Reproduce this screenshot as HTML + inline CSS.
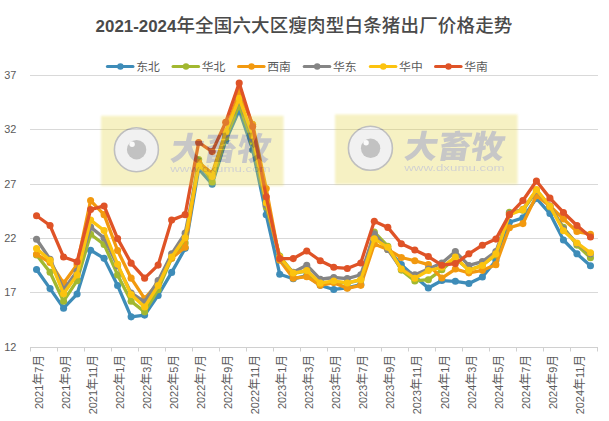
<!DOCTYPE html>
<html lang="zh"><head><meta charset="utf-8"><title>2021-2024年全国六大区瘦肉型白条猪出厂价格走势</title>
<style>
html,body{margin:0;padding:0;background:#fff;}
body{width:609px;height:421px;overflow:hidden;}
svg{display:block;}
svg text{font-family:"Liberation Sans","Noto Sans CJK SC",sans-serif;}
.cj{font-family:"Noto Sans CJK SC","Liberation Sans",sans-serif;}
</style></head><body>
<svg width="609" height="421" viewBox="0 0 609 421">
<rect x="0" y="0" width="609" height="421" fill="#ffffff"/>
<text x="95.6" y="32.2" fill="#4a4a4a"><tspan font-size="16.9px" font-weight="bold">2021-2024</tspan><tspan class="cj" font-weight="500" font-size="18.5px" textLength="336" lengthAdjust="spacing">年全国六大区瘦肉型白条猪出厂价格走势</tspan></text>
<line x1="30" x2="598" y1="75.5" y2="75.5" stroke="#D9D9D9" stroke-width="1"/>
<line x1="30" x2="598" y1="129.5" y2="129.5" stroke="#D9D9D9" stroke-width="1"/>
<line x1="30" x2="598" y1="184.5" y2="184.5" stroke="#D9D9D9" stroke-width="1"/>
<line x1="30" x2="598" y1="238.5" y2="238.5" stroke="#D9D9D9" stroke-width="1"/>
<line x1="30" x2="598" y1="292.5" y2="292.5" stroke="#D9D9D9" stroke-width="1"/>
<line x1="30" x2="598" y1="347.5" y2="347.5" stroke="#D0D0D0" stroke-width="1"/>
<line x1="30.5" x2="30.5" y1="347" y2="351.5" stroke="#D0D0D0" stroke-width="1"/>
<line x1="57.5" x2="57.5" y1="347" y2="351.5" stroke="#D0D0D0" stroke-width="1"/>
<line x1="84.5" x2="84.5" y1="347" y2="351.5" stroke="#D0D0D0" stroke-width="1"/>
<line x1="111.5" x2="111.5" y1="347" y2="351.5" stroke="#D0D0D0" stroke-width="1"/>
<line x1="138.5" x2="138.5" y1="347" y2="351.5" stroke="#D0D0D0" stroke-width="1"/>
<line x1="165.5" x2="165.5" y1="347" y2="351.5" stroke="#D0D0D0" stroke-width="1"/>
<line x1="192.5" x2="192.5" y1="347" y2="351.5" stroke="#D0D0D0" stroke-width="1"/>
<line x1="219.5" x2="219.5" y1="347" y2="351.5" stroke="#D0D0D0" stroke-width="1"/>
<line x1="246.5" x2="246.5" y1="347" y2="351.5" stroke="#D0D0D0" stroke-width="1"/>
<line x1="273.5" x2="273.5" y1="347" y2="351.5" stroke="#D0D0D0" stroke-width="1"/>
<line x1="300.5" x2="300.5" y1="347" y2="351.5" stroke="#D0D0D0" stroke-width="1"/>
<line x1="327.5" x2="327.5" y1="347" y2="351.5" stroke="#D0D0D0" stroke-width="1"/>
<line x1="354.5" x2="354.5" y1="347" y2="351.5" stroke="#D0D0D0" stroke-width="1"/>
<line x1="381.5" x2="381.5" y1="347" y2="351.5" stroke="#D0D0D0" stroke-width="1"/>
<line x1="408.5" x2="408.5" y1="347" y2="351.5" stroke="#D0D0D0" stroke-width="1"/>
<line x1="435.5" x2="435.5" y1="347" y2="351.5" stroke="#D0D0D0" stroke-width="1"/>
<line x1="462.5" x2="462.5" y1="347" y2="351.5" stroke="#D0D0D0" stroke-width="1"/>
<line x1="489.5" x2="489.5" y1="347" y2="351.5" stroke="#D0D0D0" stroke-width="1"/>
<line x1="516.5" x2="516.5" y1="347" y2="351.5" stroke="#D0D0D0" stroke-width="1"/>
<line x1="543.5" x2="543.5" y1="347" y2="351.5" stroke="#D0D0D0" stroke-width="1"/>
<line x1="570.5" x2="570.5" y1="347" y2="351.5" stroke="#D0D0D0" stroke-width="1"/>
<line x1="597.5" x2="597.5" y1="347" y2="351.5" stroke="#D0D0D0" stroke-width="1"/>
<text x="16.4" y="78.70" text-anchor="end" font-size="10.9px" fill="#595959">37</text>
<text x="16.4" y="132.70" text-anchor="end" font-size="10.9px" fill="#595959">32</text>
<text x="16.4" y="187.70" text-anchor="end" font-size="10.9px" fill="#595959">27</text>
<text x="16.4" y="241.70" text-anchor="end" font-size="10.9px" fill="#595959">22</text>
<text x="16.4" y="295.70" text-anchor="end" font-size="10.9px" fill="#595959">17</text>
<text x="16.4" y="350.70" text-anchor="end" font-size="10.9px" fill="#595959">12</text>
<text transform="translate(42.65,354.7) rotate(-90)" text-anchor="end" fill="#595959" font-size="10.9px">2021<tspan class="cj" font-size="12px">年</tspan>7<tspan class="cj" font-size="12px">月</tspan></text>
<text transform="translate(69.71,354.7) rotate(-90)" text-anchor="end" fill="#595959" font-size="10.9px">2021<tspan class="cj" font-size="12px">年</tspan>9<tspan class="cj" font-size="12px">月</tspan></text>
<text transform="translate(96.77,354.7) rotate(-90)" text-anchor="end" fill="#595959" font-size="10.9px">2021<tspan class="cj" font-size="12px">年</tspan>11<tspan class="cj" font-size="12px">月</tspan></text>
<text transform="translate(123.83,354.7) rotate(-90)" text-anchor="end" fill="#595959" font-size="10.9px">2022<tspan class="cj" font-size="12px">年</tspan>1<tspan class="cj" font-size="12px">月</tspan></text>
<text transform="translate(150.89,354.7) rotate(-90)" text-anchor="end" fill="#595959" font-size="10.9px">2022<tspan class="cj" font-size="12px">年</tspan>3<tspan class="cj" font-size="12px">月</tspan></text>
<text transform="translate(177.95,354.7) rotate(-90)" text-anchor="end" fill="#595959" font-size="10.9px">2022<tspan class="cj" font-size="12px">年</tspan>5<tspan class="cj" font-size="12px">月</tspan></text>
<text transform="translate(205.01,354.7) rotate(-90)" text-anchor="end" fill="#595959" font-size="10.9px">2022<tspan class="cj" font-size="12px">年</tspan>7<tspan class="cj" font-size="12px">月</tspan></text>
<text transform="translate(232.07,354.7) rotate(-90)" text-anchor="end" fill="#595959" font-size="10.9px">2022<tspan class="cj" font-size="12px">年</tspan>9<tspan class="cj" font-size="12px">月</tspan></text>
<text transform="translate(259.13,354.7) rotate(-90)" text-anchor="end" fill="#595959" font-size="10.9px">2022<tspan class="cj" font-size="12px">年</tspan>11<tspan class="cj" font-size="12px">月</tspan></text>
<text transform="translate(286.19,354.7) rotate(-90)" text-anchor="end" fill="#595959" font-size="10.9px">2023<tspan class="cj" font-size="12px">年</tspan>1<tspan class="cj" font-size="12px">月</tspan></text>
<text transform="translate(313.25,354.7) rotate(-90)" text-anchor="end" fill="#595959" font-size="10.9px">2023<tspan class="cj" font-size="12px">年</tspan>3<tspan class="cj" font-size="12px">月</tspan></text>
<text transform="translate(340.31,354.7) rotate(-90)" text-anchor="end" fill="#595959" font-size="10.9px">2023<tspan class="cj" font-size="12px">年</tspan>5<tspan class="cj" font-size="12px">月</tspan></text>
<text transform="translate(367.37,354.7) rotate(-90)" text-anchor="end" fill="#595959" font-size="10.9px">2023<tspan class="cj" font-size="12px">年</tspan>7<tspan class="cj" font-size="12px">月</tspan></text>
<text transform="translate(394.43,354.7) rotate(-90)" text-anchor="end" fill="#595959" font-size="10.9px">2023<tspan class="cj" font-size="12px">年</tspan>9<tspan class="cj" font-size="12px">月</tspan></text>
<text transform="translate(421.49,354.7) rotate(-90)" text-anchor="end" fill="#595959" font-size="10.9px">2023<tspan class="cj" font-size="12px">年</tspan>11<tspan class="cj" font-size="12px">月</tspan></text>
<text transform="translate(448.55,354.7) rotate(-90)" text-anchor="end" fill="#595959" font-size="10.9px">2024<tspan class="cj" font-size="12px">年</tspan>1<tspan class="cj" font-size="12px">月</tspan></text>
<text transform="translate(475.61,354.7) rotate(-90)" text-anchor="end" fill="#595959" font-size="10.9px">2024<tspan class="cj" font-size="12px">年</tspan>3<tspan class="cj" font-size="12px">月</tspan></text>
<text transform="translate(502.67,354.7) rotate(-90)" text-anchor="end" fill="#595959" font-size="10.9px">2024<tspan class="cj" font-size="12px">年</tspan>5<tspan class="cj" font-size="12px">月</tspan></text>
<text transform="translate(529.73,354.7) rotate(-90)" text-anchor="end" fill="#595959" font-size="10.9px">2024<tspan class="cj" font-size="12px">年</tspan>7<tspan class="cj" font-size="12px">月</tspan></text>
<text transform="translate(556.79,354.7) rotate(-90)" text-anchor="end" fill="#595959" font-size="10.9px">2024<tspan class="cj" font-size="12px">年</tspan>9<tspan class="cj" font-size="12px">月</tspan></text>
<text transform="translate(583.85,354.7) rotate(-90)" text-anchor="end" fill="#595959" font-size="10.9px">2024<tspan class="cj" font-size="12px">年</tspan>11<tspan class="cj" font-size="12px">月</tspan></text>
<line x1="107.4" x2="133.0" y1="66.5" y2="66.5" stroke="#3E8CB8" stroke-width="3" stroke-linecap="round"/><circle cx="120.4" cy="66.5" r="3.2" fill="#3E8CB8"/><text class="cj" x="136.2" y="70.7" font-size="11.8px" fill="#595959">东北</text>
<line x1="173.0" x2="198.6" y1="66.5" y2="66.5" stroke="#A2B830" stroke-width="3" stroke-linecap="round"/><circle cx="186.0" cy="66.5" r="3.2" fill="#A2B830"/><text class="cj" x="201.8" y="70.7" font-size="11.8px" fill="#595959">华北</text>
<line x1="238.5" x2="264.1" y1="66.5" y2="66.5" stroke="#F2990F" stroke-width="3" stroke-linecap="round"/><circle cx="251.5" cy="66.5" r="3.2" fill="#F2990F"/><text class="cj" x="267.3" y="70.7" font-size="11.8px" fill="#595959">西南</text>
<line x1="304.2" x2="329.8" y1="66.5" y2="66.5" stroke="#858585" stroke-width="3" stroke-linecap="round"/><circle cx="317.2" cy="66.5" r="3.2" fill="#858585"/><text class="cj" x="333.0" y="70.7" font-size="11.8px" fill="#595959">华东</text>
<line x1="370.3" x2="395.9" y1="66.5" y2="66.5" stroke="#FCC30F" stroke-width="3" stroke-linecap="round"/><circle cx="383.3" cy="66.5" r="3.2" fill="#FCC30F"/><text class="cj" x="399.1" y="70.7" font-size="11.8px" fill="#595959">华中</text>
<line x1="435.5" x2="461.1" y1="66.5" y2="66.5" stroke="#DF5327" stroke-width="3" stroke-linecap="round"/><circle cx="448.5" cy="66.5" r="3.2" fill="#DF5327"/><text class="cj" x="464.3" y="70.7" font-size="11.8px" fill="#595959">华南</text>
<g><polyline points="36.55,269.57 50.06,288.59 63.57,308.16 77.08,294.03 90.59,250.21 104.10,258.37 117.61,285.55 131.12,316.86 144.63,315.12 158.14,295.44 171.65,272.39 185.16,248.36 198.67,169.00 212.18,184.22 225.69,140.73 239.20,110.29 252.71,149.97 266.22,214.77 279.73,274.24 293.24,278.81 306.75,275.54 320.26,285.33 333.77,289.46 347.28,287.83 360.79,284.57 374.30,235.32 387.81,249.45 401.32,264.67 414.83,276.63 428.34,287.94 441.85,280.55 455.36,281.31 468.87,283.48 482.38,276.96 495.89,260.54 509.40,222.27 522.91,217.92 536.42,198.35 549.93,213.57 563.44,239.99 576.95,253.80 590.46,265.76" fill="none" stroke="#3E8CB8" stroke-width="3.3" stroke-linejoin="round" stroke-linecap="round"/><circle cx="36.55" cy="269.57" r="3.55" fill="#3E8CB8"/><circle cx="50.06" cy="288.59" r="3.55" fill="#3E8CB8"/><circle cx="63.57" cy="308.16" r="3.55" fill="#3E8CB8"/><circle cx="77.08" cy="294.03" r="3.55" fill="#3E8CB8"/><circle cx="90.59" cy="250.21" r="3.55" fill="#3E8CB8"/><circle cx="104.10" cy="258.37" r="3.55" fill="#3E8CB8"/><circle cx="117.61" cy="285.55" r="3.55" fill="#3E8CB8"/><circle cx="131.12" cy="316.86" r="3.55" fill="#3E8CB8"/><circle cx="144.63" cy="315.12" r="3.55" fill="#3E8CB8"/><circle cx="158.14" cy="295.44" r="3.55" fill="#3E8CB8"/><circle cx="171.65" cy="272.39" r="3.55" fill="#3E8CB8"/><circle cx="185.16" cy="248.36" r="3.55" fill="#3E8CB8"/><circle cx="198.67" cy="169.00" r="3.55" fill="#3E8CB8"/><circle cx="212.18" cy="184.22" r="3.55" fill="#3E8CB8"/><circle cx="225.69" cy="140.73" r="3.55" fill="#3E8CB8"/><circle cx="239.20" cy="110.29" r="3.55" fill="#3E8CB8"/><circle cx="252.71" cy="149.97" r="3.55" fill="#3E8CB8"/><circle cx="266.22" cy="214.77" r="3.55" fill="#3E8CB8"/><circle cx="279.73" cy="274.24" r="3.55" fill="#3E8CB8"/><circle cx="293.24" cy="278.81" r="3.55" fill="#3E8CB8"/><circle cx="306.75" cy="275.54" r="3.55" fill="#3E8CB8"/><circle cx="320.26" cy="285.33" r="3.55" fill="#3E8CB8"/><circle cx="333.77" cy="289.46" r="3.55" fill="#3E8CB8"/><circle cx="347.28" cy="287.83" r="3.55" fill="#3E8CB8"/><circle cx="360.79" cy="284.57" r="3.55" fill="#3E8CB8"/><circle cx="374.30" cy="235.32" r="3.55" fill="#3E8CB8"/><circle cx="387.81" cy="249.45" r="3.55" fill="#3E8CB8"/><circle cx="401.32" cy="264.67" r="3.55" fill="#3E8CB8"/><circle cx="414.83" cy="276.63" r="3.55" fill="#3E8CB8"/><circle cx="428.34" cy="287.94" r="3.55" fill="#3E8CB8"/><circle cx="441.85" cy="280.55" r="3.55" fill="#3E8CB8"/><circle cx="455.36" cy="281.31" r="3.55" fill="#3E8CB8"/><circle cx="468.87" cy="283.48" r="3.55" fill="#3E8CB8"/><circle cx="482.38" cy="276.96" r="3.55" fill="#3E8CB8"/><circle cx="495.89" cy="260.54" r="3.55" fill="#3E8CB8"/><circle cx="509.40" cy="222.27" r="3.55" fill="#3E8CB8"/><circle cx="522.91" cy="217.92" r="3.55" fill="#3E8CB8"/><circle cx="536.42" cy="198.35" r="3.55" fill="#3E8CB8"/><circle cx="549.93" cy="213.57" r="3.55" fill="#3E8CB8"/><circle cx="563.44" cy="239.99" r="3.55" fill="#3E8CB8"/><circle cx="576.95" cy="253.80" r="3.55" fill="#3E8CB8"/><circle cx="590.46" cy="265.76" r="3.55" fill="#3E8CB8"/></g>
<g><polyline points="36.55,254.89 50.06,272.28 63.57,301.20 77.08,280.65 90.59,234.23 104.10,244.45 117.61,274.89 131.12,301.20 144.63,311.86 158.14,289.68 171.65,258.15 185.16,242.93 198.67,159.43 212.18,182.05 225.69,137.47 239.20,104.85 252.71,141.82 266.22,207.05 279.73,255.98 293.24,273.37 306.75,271.20 320.26,284.24 333.77,282.07 347.28,283.16 360.79,279.89 374.30,232.06 387.81,246.19 401.32,270.11 414.83,280.98 428.34,279.68 441.85,269.78 455.36,258.15 468.87,270.11 482.38,265.22 495.89,254.89 509.40,212.27 522.91,210.31 536.42,191.29 549.93,207.05 563.44,227.38 576.95,245.10 590.46,257.71" fill="none" stroke="#A2B830" stroke-width="3.3" stroke-linejoin="round" stroke-linecap="round"/><circle cx="36.55" cy="254.89" r="3.55" fill="#A2B830"/><circle cx="50.06" cy="272.28" r="3.55" fill="#A2B830"/><circle cx="63.57" cy="301.20" r="3.55" fill="#A2B830"/><circle cx="77.08" cy="280.65" r="3.55" fill="#A2B830"/><circle cx="90.59" cy="234.23" r="3.55" fill="#A2B830"/><circle cx="104.10" cy="244.45" r="3.55" fill="#A2B830"/><circle cx="117.61" cy="274.89" r="3.55" fill="#A2B830"/><circle cx="131.12" cy="301.20" r="3.55" fill="#A2B830"/><circle cx="144.63" cy="311.86" r="3.55" fill="#A2B830"/><circle cx="158.14" cy="289.68" r="3.55" fill="#A2B830"/><circle cx="171.65" cy="258.15" r="3.55" fill="#A2B830"/><circle cx="185.16" cy="242.93" r="3.55" fill="#A2B830"/><circle cx="198.67" cy="159.43" r="3.55" fill="#A2B830"/><circle cx="212.18" cy="182.05" r="3.55" fill="#A2B830"/><circle cx="225.69" cy="137.47" r="3.55" fill="#A2B830"/><circle cx="239.20" cy="104.85" r="3.55" fill="#A2B830"/><circle cx="252.71" cy="141.82" r="3.55" fill="#A2B830"/><circle cx="266.22" cy="207.05" r="3.55" fill="#A2B830"/><circle cx="279.73" cy="255.98" r="3.55" fill="#A2B830"/><circle cx="293.24" cy="273.37" r="3.55" fill="#A2B830"/><circle cx="306.75" cy="271.20" r="3.55" fill="#A2B830"/><circle cx="320.26" cy="284.24" r="3.55" fill="#A2B830"/><circle cx="333.77" cy="282.07" r="3.55" fill="#A2B830"/><circle cx="347.28" cy="283.16" r="3.55" fill="#A2B830"/><circle cx="360.79" cy="279.89" r="3.55" fill="#A2B830"/><circle cx="374.30" cy="232.06" r="3.55" fill="#A2B830"/><circle cx="387.81" cy="246.19" r="3.55" fill="#A2B830"/><circle cx="401.32" cy="270.11" r="3.55" fill="#A2B830"/><circle cx="414.83" cy="280.98" r="3.55" fill="#A2B830"/><circle cx="428.34" cy="279.68" r="3.55" fill="#A2B830"/><circle cx="441.85" cy="269.78" r="3.55" fill="#A2B830"/><circle cx="455.36" cy="258.15" r="3.55" fill="#A2B830"/><circle cx="468.87" cy="270.11" r="3.55" fill="#A2B830"/><circle cx="482.38" cy="265.22" r="3.55" fill="#A2B830"/><circle cx="495.89" cy="254.89" r="3.55" fill="#A2B830"/><circle cx="509.40" cy="212.27" r="3.55" fill="#A2B830"/><circle cx="522.91" cy="210.31" r="3.55" fill="#A2B830"/><circle cx="536.42" cy="191.29" r="3.55" fill="#A2B830"/><circle cx="549.93" cy="207.05" r="3.55" fill="#A2B830"/><circle cx="563.44" cy="227.38" r="3.55" fill="#A2B830"/><circle cx="576.95" cy="245.10" r="3.55" fill="#A2B830"/><circle cx="590.46" cy="257.71" r="3.55" fill="#A2B830"/></g>
<g><polyline points="36.55,254.34 50.06,262.50 63.57,283.16 77.08,264.67 90.59,200.53 104.10,214.66 117.61,250.54 131.12,278.15 144.63,298.70 158.14,283.16 171.65,258.15 185.16,247.28 198.67,162.48 212.18,173.35 225.69,132.03 239.20,91.81 252.71,124.42 266.22,188.57 279.73,260.32 293.24,278.26 306.75,276.63 320.26,285.33 333.77,282.61 347.28,288.27 360.79,285.33 374.30,244.02 387.81,249.45 401.32,257.50 414.83,260.76 428.34,264.67 441.85,278.05 455.36,269.02 468.87,272.83 482.38,270.33 495.89,264.67 509.40,227.71 522.91,223.58 536.42,195.64 549.93,205.96 563.44,219.01 576.95,231.51 590.46,234.23" fill="none" stroke="#F2990F" stroke-width="3.3" stroke-linejoin="round" stroke-linecap="round"/><circle cx="36.55" cy="254.34" r="3.55" fill="#F2990F"/><circle cx="50.06" cy="262.50" r="3.55" fill="#F2990F"/><circle cx="63.57" cy="283.16" r="3.55" fill="#F2990F"/><circle cx="77.08" cy="264.67" r="3.55" fill="#F2990F"/><circle cx="90.59" cy="200.53" r="3.55" fill="#F2990F"/><circle cx="104.10" cy="214.66" r="3.55" fill="#F2990F"/><circle cx="117.61" cy="250.54" r="3.55" fill="#F2990F"/><circle cx="131.12" cy="278.15" r="3.55" fill="#F2990F"/><circle cx="144.63" cy="298.70" r="3.55" fill="#F2990F"/><circle cx="158.14" cy="283.16" r="3.55" fill="#F2990F"/><circle cx="171.65" cy="258.15" r="3.55" fill="#F2990F"/><circle cx="185.16" cy="247.28" r="3.55" fill="#F2990F"/><circle cx="198.67" cy="162.48" r="3.55" fill="#F2990F"/><circle cx="212.18" cy="173.35" r="3.55" fill="#F2990F"/><circle cx="225.69" cy="132.03" r="3.55" fill="#F2990F"/><circle cx="239.20" cy="91.81" r="3.55" fill="#F2990F"/><circle cx="252.71" cy="124.42" r="3.55" fill="#F2990F"/><circle cx="266.22" cy="188.57" r="3.55" fill="#F2990F"/><circle cx="279.73" cy="260.32" r="3.55" fill="#F2990F"/><circle cx="293.24" cy="278.26" r="3.55" fill="#F2990F"/><circle cx="306.75" cy="276.63" r="3.55" fill="#F2990F"/><circle cx="320.26" cy="285.33" r="3.55" fill="#F2990F"/><circle cx="333.77" cy="282.61" r="3.55" fill="#F2990F"/><circle cx="347.28" cy="288.27" r="3.55" fill="#F2990F"/><circle cx="360.79" cy="285.33" r="3.55" fill="#F2990F"/><circle cx="374.30" cy="244.02" r="3.55" fill="#F2990F"/><circle cx="387.81" cy="249.45" r="3.55" fill="#F2990F"/><circle cx="401.32" cy="257.50" r="3.55" fill="#F2990F"/><circle cx="414.83" cy="260.76" r="3.55" fill="#F2990F"/><circle cx="428.34" cy="264.67" r="3.55" fill="#F2990F"/><circle cx="441.85" cy="278.05" r="3.55" fill="#F2990F"/><circle cx="455.36" cy="269.02" r="3.55" fill="#F2990F"/><circle cx="468.87" cy="272.83" r="3.55" fill="#F2990F"/><circle cx="482.38" cy="270.33" r="3.55" fill="#F2990F"/><circle cx="495.89" cy="264.67" r="3.55" fill="#F2990F"/><circle cx="509.40" cy="227.71" r="3.55" fill="#F2990F"/><circle cx="522.91" cy="223.58" r="3.55" fill="#F2990F"/><circle cx="536.42" cy="195.64" r="3.55" fill="#F2990F"/><circle cx="549.93" cy="205.96" r="3.55" fill="#F2990F"/><circle cx="563.44" cy="219.01" r="3.55" fill="#F2990F"/><circle cx="576.95" cy="231.51" r="3.55" fill="#F2990F"/><circle cx="590.46" cy="234.23" r="3.55" fill="#F2990F"/></g>
<g><polyline points="36.55,239.23 50.06,259.24 63.57,289.68 77.08,271.20 90.59,227.16 104.10,237.93 117.61,265.76 131.12,292.94 144.63,301.96 158.14,280.65 171.65,253.80 185.16,233.14 198.67,165.74 212.18,176.61 225.69,134.21 239.20,98.87 252.71,138.56 266.22,204.88 279.73,258.15 293.24,272.28 306.75,265.22 320.26,279.24 333.77,277.50 347.28,278.59 360.79,274.78 374.30,233.69 387.81,249.45 401.32,269.02 414.83,274.68 428.34,269.02 441.85,263.04 455.36,251.63 468.87,265.43 482.38,261.63 495.89,251.52 509.40,213.57 522.91,209.23 536.42,190.53 549.93,205.96 563.44,228.80 576.95,243.47 590.46,253.80" fill="none" stroke="#858585" stroke-width="3.3" stroke-linejoin="round" stroke-linecap="round"/><circle cx="36.55" cy="239.23" r="3.55" fill="#858585"/><circle cx="50.06" cy="259.24" r="3.55" fill="#858585"/><circle cx="63.57" cy="289.68" r="3.55" fill="#858585"/><circle cx="77.08" cy="271.20" r="3.55" fill="#858585"/><circle cx="90.59" cy="227.16" r="3.55" fill="#858585"/><circle cx="104.10" cy="237.93" r="3.55" fill="#858585"/><circle cx="117.61" cy="265.76" r="3.55" fill="#858585"/><circle cx="131.12" cy="292.94" r="3.55" fill="#858585"/><circle cx="144.63" cy="301.96" r="3.55" fill="#858585"/><circle cx="158.14" cy="280.65" r="3.55" fill="#858585"/><circle cx="171.65" cy="253.80" r="3.55" fill="#858585"/><circle cx="185.16" cy="233.14" r="3.55" fill="#858585"/><circle cx="198.67" cy="165.74" r="3.55" fill="#858585"/><circle cx="212.18" cy="176.61" r="3.55" fill="#858585"/><circle cx="225.69" cy="134.21" r="3.55" fill="#858585"/><circle cx="239.20" cy="98.87" r="3.55" fill="#858585"/><circle cx="252.71" cy="138.56" r="3.55" fill="#858585"/><circle cx="266.22" cy="204.88" r="3.55" fill="#858585"/><circle cx="279.73" cy="258.15" r="3.55" fill="#858585"/><circle cx="293.24" cy="272.28" r="3.55" fill="#858585"/><circle cx="306.75" cy="265.22" r="3.55" fill="#858585"/><circle cx="320.26" cy="279.24" r="3.55" fill="#858585"/><circle cx="333.77" cy="277.50" r="3.55" fill="#858585"/><circle cx="347.28" cy="278.59" r="3.55" fill="#858585"/><circle cx="360.79" cy="274.78" r="3.55" fill="#858585"/><circle cx="374.30" cy="233.69" r="3.55" fill="#858585"/><circle cx="387.81" cy="249.45" r="3.55" fill="#858585"/><circle cx="401.32" cy="269.02" r="3.55" fill="#858585"/><circle cx="414.83" cy="274.68" r="3.55" fill="#858585"/><circle cx="428.34" cy="269.02" r="3.55" fill="#858585"/><circle cx="441.85" cy="263.04" r="3.55" fill="#858585"/><circle cx="455.36" cy="251.63" r="3.55" fill="#858585"/><circle cx="468.87" cy="265.43" r="3.55" fill="#858585"/><circle cx="482.38" cy="261.63" r="3.55" fill="#858585"/><circle cx="495.89" cy="251.52" r="3.55" fill="#858585"/><circle cx="509.40" cy="213.57" r="3.55" fill="#858585"/><circle cx="522.91" cy="209.23" r="3.55" fill="#858585"/><circle cx="536.42" cy="190.53" r="3.55" fill="#858585"/><circle cx="549.93" cy="205.96" r="3.55" fill="#858585"/><circle cx="563.44" cy="228.80" r="3.55" fill="#858585"/><circle cx="576.95" cy="243.47" r="3.55" fill="#858585"/><circle cx="590.46" cy="253.80" r="3.55" fill="#858585"/></g>
<g><polyline points="36.55,248.58 50.06,260.32 63.57,293.81 77.08,274.89 90.59,220.10 104.10,230.53 117.61,264.24 131.12,294.57 144.63,306.96 158.14,285.55 171.65,257.06 185.16,237.82 198.67,165.74 212.18,176.61 225.69,132.03 239.20,98.33 252.71,135.73 266.22,202.70 279.73,257.06 293.24,273.04 306.75,270.54 320.26,283.16 333.77,280.98 347.28,282.94 360.79,279.68 374.30,238.91 387.81,247.28 401.32,269.02 414.83,278.26 428.34,270.54 441.85,267.28 455.36,257.06 468.87,270.33 482.38,265.43 495.89,253.91 509.40,214.66 522.91,209.66 536.42,189.66 549.93,206.18 563.44,230.75 576.95,242.93 590.46,252.82" fill="none" stroke="#FCC30F" stroke-width="3.3" stroke-linejoin="round" stroke-linecap="round"/><circle cx="36.55" cy="248.58" r="3.55" fill="#FCC30F"/><circle cx="50.06" cy="260.32" r="3.55" fill="#FCC30F"/><circle cx="63.57" cy="293.81" r="3.55" fill="#FCC30F"/><circle cx="77.08" cy="274.89" r="3.55" fill="#FCC30F"/><circle cx="90.59" cy="220.10" r="3.55" fill="#FCC30F"/><circle cx="104.10" cy="230.53" r="3.55" fill="#FCC30F"/><circle cx="117.61" cy="264.24" r="3.55" fill="#FCC30F"/><circle cx="131.12" cy="294.57" r="3.55" fill="#FCC30F"/><circle cx="144.63" cy="306.96" r="3.55" fill="#FCC30F"/><circle cx="158.14" cy="285.55" r="3.55" fill="#FCC30F"/><circle cx="171.65" cy="257.06" r="3.55" fill="#FCC30F"/><circle cx="185.16" cy="237.82" r="3.55" fill="#FCC30F"/><circle cx="198.67" cy="165.74" r="3.55" fill="#FCC30F"/><circle cx="212.18" cy="176.61" r="3.55" fill="#FCC30F"/><circle cx="225.69" cy="132.03" r="3.55" fill="#FCC30F"/><circle cx="239.20" cy="98.33" r="3.55" fill="#FCC30F"/><circle cx="252.71" cy="135.73" r="3.55" fill="#FCC30F"/><circle cx="266.22" cy="202.70" r="3.55" fill="#FCC30F"/><circle cx="279.73" cy="257.06" r="3.55" fill="#FCC30F"/><circle cx="293.24" cy="273.04" r="3.55" fill="#FCC30F"/><circle cx="306.75" cy="270.54" r="3.55" fill="#FCC30F"/><circle cx="320.26" cy="283.16" r="3.55" fill="#FCC30F"/><circle cx="333.77" cy="280.98" r="3.55" fill="#FCC30F"/><circle cx="347.28" cy="282.94" r="3.55" fill="#FCC30F"/><circle cx="360.79" cy="279.68" r="3.55" fill="#FCC30F"/><circle cx="374.30" cy="238.91" r="3.55" fill="#FCC30F"/><circle cx="387.81" cy="247.28" r="3.55" fill="#FCC30F"/><circle cx="401.32" cy="269.02" r="3.55" fill="#FCC30F"/><circle cx="414.83" cy="278.26" r="3.55" fill="#FCC30F"/><circle cx="428.34" cy="270.54" r="3.55" fill="#FCC30F"/><circle cx="441.85" cy="267.28" r="3.55" fill="#FCC30F"/><circle cx="455.36" cy="257.06" r="3.55" fill="#FCC30F"/><circle cx="468.87" cy="270.33" r="3.55" fill="#FCC30F"/><circle cx="482.38" cy="265.43" r="3.55" fill="#FCC30F"/><circle cx="495.89" cy="253.91" r="3.55" fill="#FCC30F"/><circle cx="509.40" cy="214.66" r="3.55" fill="#FCC30F"/><circle cx="522.91" cy="209.66" r="3.55" fill="#FCC30F"/><circle cx="536.42" cy="189.66" r="3.55" fill="#FCC30F"/><circle cx="549.93" cy="206.18" r="3.55" fill="#FCC30F"/><circle cx="563.44" cy="230.75" r="3.55" fill="#FCC30F"/><circle cx="576.95" cy="242.93" r="3.55" fill="#FCC30F"/><circle cx="590.46" cy="252.82" r="3.55" fill="#FCC30F"/></g>
<g><polyline points="36.55,215.75 50.06,225.53 63.57,257.06 77.08,261.74 90.59,209.55 104.10,205.96 117.61,238.58 131.12,263.15 144.63,278.15 158.14,265.11 171.65,220.10 185.16,214.66 198.67,142.47 212.18,151.60 225.69,122.25 239.20,83.11 252.71,126.60 266.22,196.72 279.73,258.58 293.24,258.58 306.75,250.97 320.26,260.76 333.77,267.28 347.28,268.48 360.79,262.93 374.30,221.29 387.81,227.38 401.32,243.69 414.83,250.00 428.34,256.52 441.85,265.22 455.36,263.59 468.87,253.80 482.38,245.21 495.89,239.12 509.40,214.66 522.91,200.53 536.42,180.96 549.93,198.14 563.44,212.49 576.95,225.53 590.46,236.95" fill="none" stroke="#DF5327" stroke-width="3.3" stroke-linejoin="round" stroke-linecap="round"/><circle cx="36.55" cy="215.75" r="3.55" fill="#DF5327"/><circle cx="50.06" cy="225.53" r="3.55" fill="#DF5327"/><circle cx="63.57" cy="257.06" r="3.55" fill="#DF5327"/><circle cx="77.08" cy="261.74" r="3.55" fill="#DF5327"/><circle cx="90.59" cy="209.55" r="3.55" fill="#DF5327"/><circle cx="104.10" cy="205.96" r="3.55" fill="#DF5327"/><circle cx="117.61" cy="238.58" r="3.55" fill="#DF5327"/><circle cx="131.12" cy="263.15" r="3.55" fill="#DF5327"/><circle cx="144.63" cy="278.15" r="3.55" fill="#DF5327"/><circle cx="158.14" cy="265.11" r="3.55" fill="#DF5327"/><circle cx="171.65" cy="220.10" r="3.55" fill="#DF5327"/><circle cx="185.16" cy="214.66" r="3.55" fill="#DF5327"/><circle cx="198.67" cy="142.47" r="3.55" fill="#DF5327"/><circle cx="212.18" cy="151.60" r="3.55" fill="#DF5327"/><circle cx="225.69" cy="122.25" r="3.55" fill="#DF5327"/><circle cx="239.20" cy="83.11" r="3.55" fill="#DF5327"/><circle cx="252.71" cy="126.60" r="3.55" fill="#DF5327"/><circle cx="266.22" cy="196.72" r="3.55" fill="#DF5327"/><circle cx="279.73" cy="258.58" r="3.55" fill="#DF5327"/><circle cx="293.24" cy="258.58" r="3.55" fill="#DF5327"/><circle cx="306.75" cy="250.97" r="3.55" fill="#DF5327"/><circle cx="320.26" cy="260.76" r="3.55" fill="#DF5327"/><circle cx="333.77" cy="267.28" r="3.55" fill="#DF5327"/><circle cx="347.28" cy="268.48" r="3.55" fill="#DF5327"/><circle cx="360.79" cy="262.93" r="3.55" fill="#DF5327"/><circle cx="374.30" cy="221.29" r="3.55" fill="#DF5327"/><circle cx="387.81" cy="227.38" r="3.55" fill="#DF5327"/><circle cx="401.32" cy="243.69" r="3.55" fill="#DF5327"/><circle cx="414.83" cy="250.00" r="3.55" fill="#DF5327"/><circle cx="428.34" cy="256.52" r="3.55" fill="#DF5327"/><circle cx="441.85" cy="265.22" r="3.55" fill="#DF5327"/><circle cx="455.36" cy="263.59" r="3.55" fill="#DF5327"/><circle cx="468.87" cy="253.80" r="3.55" fill="#DF5327"/><circle cx="482.38" cy="245.21" r="3.55" fill="#DF5327"/><circle cx="495.89" cy="239.12" r="3.55" fill="#DF5327"/><circle cx="509.40" cy="214.66" r="3.55" fill="#DF5327"/><circle cx="522.91" cy="200.53" r="3.55" fill="#DF5327"/><circle cx="536.42" cy="180.96" r="3.55" fill="#DF5327"/><circle cx="549.93" cy="198.14" r="3.55" fill="#DF5327"/><circle cx="563.44" cy="212.49" r="3.55" fill="#DF5327"/><circle cx="576.95" cy="225.53" r="3.55" fill="#DF5327"/><circle cx="590.46" cy="236.95" r="3.55" fill="#DF5327"/></g>
<defs><filter id="sf" x="-5%" y="-10%" width="110%" height="120%"><feGaussianBlur stdDeviation="1.0"/></filter></defs>
<g transform="translate(101.0,115.8)" opacity="0.3"><rect x="0" y="0" width="182.6" height="70" fill="rgb(228,212,62)" filter="url(#sf)"/><circle cx="35.4" cy="33.9" r="22" fill="#D4D4D4" stroke="#2E2E2E" stroke-width="1.6"/><circle cx="35.6" cy="33.9" r="9.7" fill="#3A3A3A"/><circle cx="31.1" cy="28.4" r="2.7" fill="#F0F0F0"/><text class="cj" transform="translate(68.0,44) skewX(-10)" font-size="32px" font-weight="900" fill="#4a4a4a" textLength="100" lengthAdjust="spacingAndGlyphs">大畜牧</text><text x="69.2" y="56.5" font-size="9.7px" fill="#6a6a6a" textLength="100.5" lengthAdjust="spacingAndGlyphs">www.dxumu.com</text></g>
<g transform="translate(335.0,114.4)" opacity="0.3"><rect x="0" y="0" width="182.6" height="70" fill="rgb(228,212,62)" filter="url(#sf)"/><circle cx="35.4" cy="33.9" r="22" fill="#D4D4D4" stroke="#2E2E2E" stroke-width="1.6"/><circle cx="35.6" cy="33.9" r="9.7" fill="#3A3A3A"/><circle cx="31.1" cy="28.4" r="2.7" fill="#F0F0F0"/><text class="cj" transform="translate(68.0,44) skewX(-10)" font-size="32px" font-weight="900" fill="#4a4a4a" textLength="100" lengthAdjust="spacingAndGlyphs">大畜牧</text><text x="69.2" y="56.5" font-size="9.7px" fill="#6a6a6a" textLength="100.5" lengthAdjust="spacingAndGlyphs">www.dxumu.com</text></g>
</svg>
</body></html>
